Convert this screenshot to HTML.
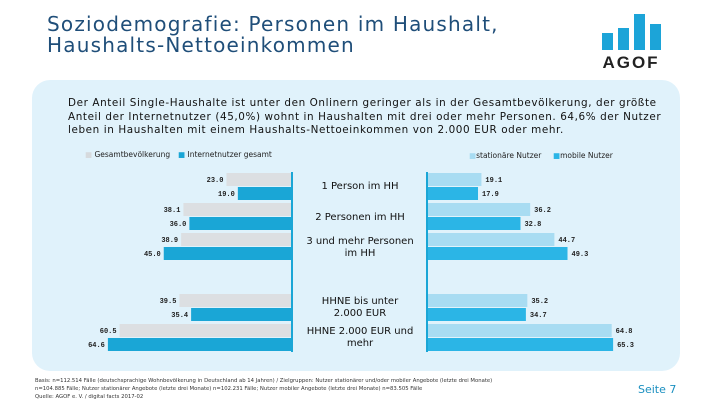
<!DOCTYPE html>
<html><head><meta charset="utf-8"><style>
body{margin:0;width:720px;height:405px;background:#fff;position:relative;overflow:hidden;font-family:"DejaVu Sans","Liberation Sans",sans-serif}
.t{position:absolute;left:47px;top:14px;font-size:20px;line-height:21px;letter-spacing:1.2px;color:#1f4e79;font-family:"DejaVu Sans",sans-serif}
.panel{position:absolute;left:32px;top:80px;width:648px;height:291px;background:#e0f2fb;border-radius:18px}
.intro{position:absolute;left:68px;top:97px;width:620px;font-size:10.4px;line-height:13.5px;letter-spacing:0.6px;color:#111;white-space:nowrap}
.lg{position:absolute;font-size:7.5px;color:#222}
.cat{position:absolute;width:140px;left:290px;text-align:center;font-size:10px;line-height:12px;color:#111}
.foot{position:absolute;left:35px;top:377px;font-size:5.3px;line-height:8px;color:#333}
</style></head><body>
<div class="t">Soziodemografie: Personen im Haushalt,<br>Haushalts-Nettoeinkommen</div>
<svg style="position:absolute;left:0;top:0" width="720" height="80">
<rect x="602" y="33" width="11" height="17" fill="#1ca4d8"/><rect x="618" y="28" width="11" height="22" fill="#1ca4d8"/><rect x="634" y="14" width="11" height="36" fill="#1ca4d8"/><rect x="650" y="24" width="11" height="26" fill="#1ca4d8"/>
<text x="631" y="68" text-anchor="middle" font-family="Liberation Sans" font-weight="bold" font-size="17" letter-spacing="2" fill="#222">AGOF</text></svg>
<div class="panel"></div>
<div class="intro">Der Anteil Single-Haushalte ist unter den Onlinern geringer als in der Gesamtbevölkerung, der größte<br>Anteil der Internetnutzer (45,0%) wohnt in Haushalten mit drei oder mehr Personen. 64,6% der Nutzer<br>leben in Haushalten mit einem Haushalts-Nettoeinkommen von 2.000 EUR oder mehr.</div>
<div class="lg" style="left:85px;top:150px"><span style="color:#d6dadd">■</span> Gesamtbevölkerung</div>
<div class="lg" style="left:178px;top:150px"><span style="color:#1aa6d6">■</span> Internetnutzer gesamt</div>
<div class="lg" style="left:469px;top:151px"><span style="color:#a8dcf2">■</span>stationäre Nutzer</div>
<div class="lg" style="left:553px;top:151px"><span style="color:#2bb5e6">■</span>mobile Nutzer</div>
<div class="cat" style="top:181px">1 Person im HH</div>
<div class="cat" style="top:212px">2 Personen im HH</div>
<div class="cat" style="top:236px">3 und mehr Personen<br>im HH</div>
<div class="cat" style="top:296px">HHNE bis unter<br>2.000 EUR</div>
<div class="cat" style="top:326px">HHNE 2.000 EUR und<br>mehr</div>
<svg id="ch" style="position:absolute;left:0;top:0" width="720" height="405"></svg>
<div class="foot">Basis: n=112.514 Fälle (deutschsprachige Wohnbevölkerung in Deutschland ab 14 Jahren) / Zielgruppen: Nutzer stationärer und/oder mobiler Angebote (letzte drei Monate)<br>n=104.885 Fälle; Nutzer stationärer Angebote (letzte drei Monate) n=102.231 Fälle; Nutzer mobiler Angebote (letzte drei Monate) n=83.505 Fälle<br>Quelle: AGOF e. V. / digital facts 2017-02</div>
<div style="position:absolute;left:638px;top:383px;font-size:11px;color:#1a8fc0">Seite 7</div>
<script>
const categories=["1 Person im HH","2 Personen im HH","3 und mehr Personen im HH","HHNE bis unter 2.000 EUR","HHNE 2.000 EUR und mehr"];
const gesamt=[23.0,38.1,38.9,39.5,60.5];
const internet=[19.0,36.0,45.0,35.4,64.6];
const stationaer=[19.1,36.2,44.7,35.2,64.8];
const mobile=[17.9,32.8,49.3,34.7,65.3];
const NS="http://www.w3.org/2000/svg",svg=document.getElementById('ch');
const groupTop=[173,203,233,294,324];
const k=2.85,LA=292,RA=427,bh=13;
function el(t,a){const e=document.createElementNS(NS,t);for(const n in a)e.setAttribute(n,a[n]);svg.appendChild(e);return e;}
function txt(x,y,s,anchor){const e=el('text',{x:x,y:y,'font-size':7,'font-weight':'bold','font-family':'Liberation Mono, monospace','text-anchor':anchor,fill:'#222'});e.textContent=s.toFixed(1);return e;}
categories.forEach((c,i)=>{
 const y=groupTop[i];
 let w=gesamt[i]*k;let r=el('rect',{x:LA-w,y:y,width:w,height:bh,fill:'#dcdfe2'});
 
 let t=txt(LA-w-3,y+9,gesamt[i],'end');
 w=internet[i]*k;r=el('rect',{x:LA-w,y:y+bh+1,width:w,height:bh,fill:'#1aa6d6'});
 
 t=txt(LA-w-3,y+bh+10,internet[i],'end');
 w=stationaer[i]*k;r=el('rect',{x:RA,y:y,width:w,height:bh,fill:'#a8dcf2'});
 
 t=txt(RA+w+4,y+9,stationaer[i],'start');
 w=mobile[i]*k;r=el('rect',{x:RA,y:y+bh+1,width:w,height:bh,fill:'#2bb5e6'});
 
 t=txt(RA+w+4,y+bh+10,mobile[i],'start');
});
let a=el('line',{x1:LA,y1:172,x2:LA,y2:352,stroke:'#1aa6d6','stroke-width':2});

a=el('line',{x1:RA,y1:172,x2:RA,y2:352,stroke:'#1aa6d6','stroke-width':2});

</script>
</body></html>
